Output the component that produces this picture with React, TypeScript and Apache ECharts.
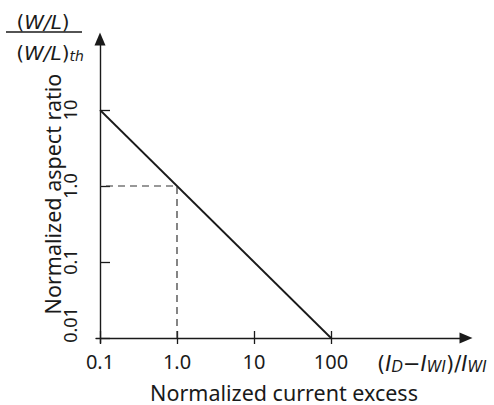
import React, { useEffect, useRef } from "react";
import * as echarts from "echarts";

const lineX = [0.1, 100];
const lineY = [10, 0.01];
const dashX = [1, 1, 0.1];
const dashY = [0.01, 1, 1];
const xTickValues = [0.1, 1, 10, 100];
const xTickLabels = ["0.1", "1.0", "10", "100"];
const yTickValues = [0.01, 0.1, 1, 10];
const yTickLabels = ["0.01", "0.1", "1.0", "10"];

const FONT = "Noto Sans";
const MFONT = "DejaVu Sans";
const INK = "#1a1a1a";

function lookup(v: number, vals: number[], labels: string[]) {
  for (let i = 0; i < vals.length; i++) {
    if (Math.abs(Math.log10(v) - Math.log10(vals[i])) < 1e-6) return labels[i];
  }
  return "";
}

export default function App() {
  const ref = useRef<HTMLDivElement>(null);
  useEffect(() => {
    if (!ref.current) return;
    const chart = echarts.init(ref.current, null, { renderer: "svg" });
    const richMain = {
      p: { fontFamily: MFONT, fontSize: 20, fill: INK, verticalAlign: "bottom", lineHeight: 30 },
      i: { fontFamily: MFONT, fontSize: 20, fontStyle: "italic", fill: INK, verticalAlign: "bottom", lineHeight: 30 },
      s: { fontFamily: MFONT, fontSize: 14, fontStyle: "italic", fill: INK, verticalAlign: "bottom", lineHeight: 14 },
    };
    const richX = {
      p: { fontFamily: MFONT, fontSize: 21, fill: INK, verticalAlign: "bottom", lineHeight: 31 },
      i: { fontFamily: MFONT, fontSize: 21, fontStyle: "italic", fill: INK, verticalAlign: "bottom", lineHeight: 31 },
      s: { fontFamily: MFONT, fontSize: 15, fontStyle: "italic", fill: INK, verticalAlign: "bottom", lineHeight: 15 },
    };
    chart.setOption({
      animation: false,
      grid: [
        { left: 100, right: 163, top: 110, bottom: 67 },
        { left: 96, right: 28, top: 39, bottom: 62 },
      ],
      xAxis: [
        {
          type: "log", gridIndex: 0, min: 0.1, max: 100, logBase: 10, offset: 6,
          axisLine: { show: false }, splitLine: { show: false },
          axisTick: { inside: true, length: 13, lineStyle: { color: INK, width: 1.3 } },
          axisLabel: {
            margin: 7, fontFamily: FONT, fontSize: 20, color: INK,
            formatter: (v: number) => lookup(v, xTickValues, xTickLabels),
          },
        },
        {
          type: "value", gridIndex: 1, min: -4, max: 366,
          axisLine: { show: true, onZero: true, symbol: ["none", "triangle"], symbolSize: [11, 13], lineStyle: { color: INK, width: 1.4 } },
          axisTick: { show: false }, axisLabel: { show: false }, splitLine: { show: false },
        },
      ],
      yAxis: [
        {
          type: "log", gridIndex: 0, min: 0.01, max: 10, logBase: 10,
          axisLine: { show: false }, splitLine: { show: false },
          axisTick: { inside: true, length: 10, lineStyle: { color: INK, width: 1.3 } },
          axisLabel: {
            rotate: 90, margin: 21, fontFamily: FONT, fontSize: 18, color: INK,
            formatter: (v: number) => {
              const s = lookup(v, yTickValues, yTickLabels);
              return s === "0.01" ? "{lo|" + s + "}" : s;
            },
            rich: { lo: { fontFamily: FONT, fontSize: 18, color: INK, padding: [0, 0, 0, 26] } },
          },
        },
        {
          type: "value", gridIndex: 1, min: -5, max: 299,
          axisLine: { show: true, onZero: true, symbol: ["none", "triangle"], symbolSize: [11, 13], lineStyle: { color: INK, width: 1.4 } },
          axisTick: { show: false }, axisLabel: { show: false }, splitLine: { show: false },
        },
      ],
      series: [
        {
          type: "line", xAxisIndex: 0, yAxisIndex: 0, symbol: "none",
          data: lineX.map((x, i) => [x, lineY[i]]),
          lineStyle: { color: INK, width: 1.8 },
        },
        {
          type: "line", xAxisIndex: 0, yAxisIndex: 0, symbol: "none",
          data: dashX.map((x, i) => [x, dashY[i]]),
          lineStyle: { color: "#333", width: 1.2, type: [7, 5] },
        },
      ],
      graphic: [
        {
          type: "text", x: 43, y: 17,
          style: { text: "{p|(}{i|W/L}{p|)}", rich: richMain, align: "center", verticalAlign: "middle" },
        },
        { type: "line", shape: { x1: 6, y1: 32, x2: 82, y2: 32 }, style: { stroke: INK, lineWidth: 1.3 } },
        {
          type: "text", x: 50, y: 48,
          style: { text: "{p|(}{i|W/L}{p|)}{s|th}", rich: richMain, align: "center", verticalAlign: "middle" },
        },
        {
          type: "text", x: 52, y: 194, rotation: Math.PI / 2,
          style: { text: "Normalized aspect ratio", fontFamily: FONT, fontSize: 21.5, fill: INK, align: "center", verticalAlign: "middle" },
        },
        {
          type: "text", x: 284, y: 392,
          style: { text: "Normalized current excess", fontFamily: FONT, fontSize: 21.5, fill: INK, align: "center", verticalAlign: "middle" },
        },
        {
          type: "text", x: 377, y: 359,
          style: { text: "{p|(}{i|I}{s|D}{p|−}{i|I}{s|WI}{p|)/}{i|I}{s|WI}", rich: richX, align: "left", verticalAlign: "middle" },
        },
      ],
    });
    return () => chart.dispose();
  }, []);
  return <div ref={ref} style={{ width: 494, height: 405, position: "absolute", left: 0, top: 0 }} />;
}
